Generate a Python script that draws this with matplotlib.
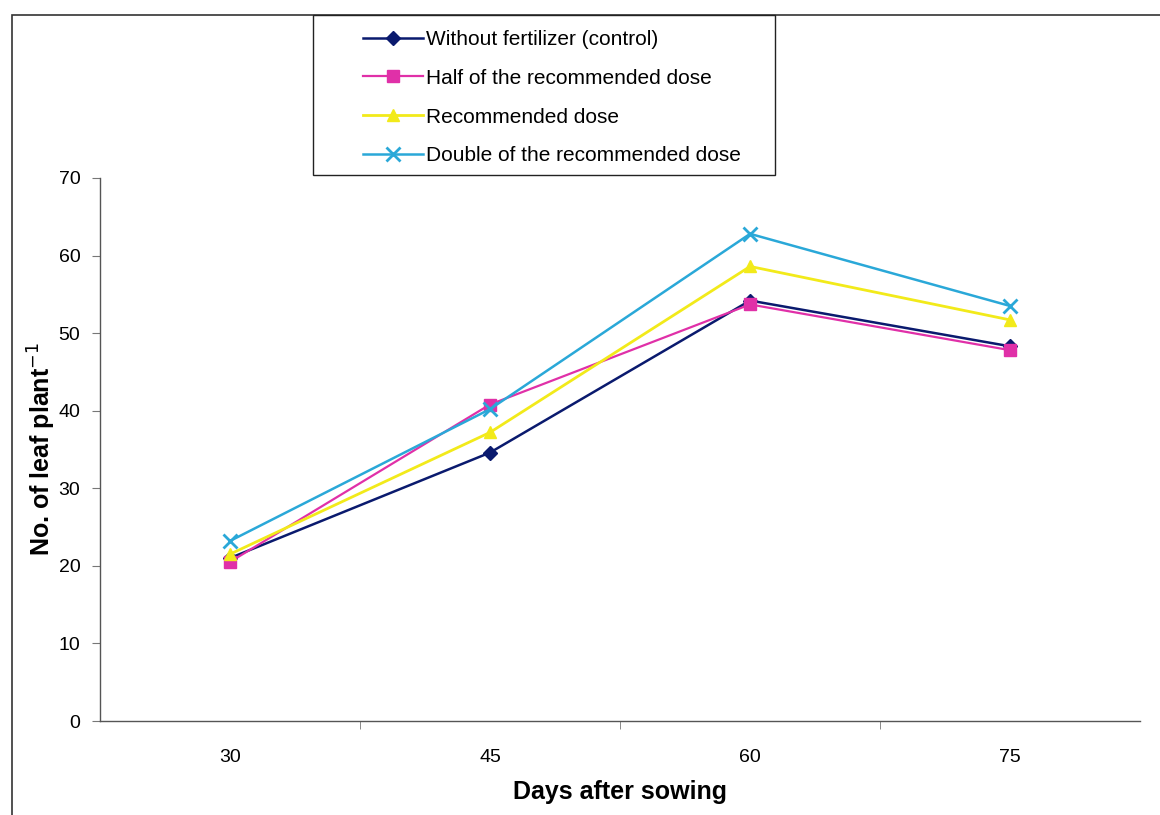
import matplotlib.pyplot as plt
from matplotlib.patches import Rectangle

# data
days = ["30", "45", "60", "75"]
control = [21.0, 34.6, 54.2, 48.3]
half_dose = [20.5, 40.8, 53.7, 47.8]
rec_dose = [21.5, 37.2, 58.6, 51.7]
double_dose = [23.2, 40.2, 62.8, 53.5]

labels = ["Without fertilizer (control)", "Half of the recommended dose",
          "Recommended dose", "Double of the recommended dose"]

plt.rcParams['font.family'] = ['Liberation Sans', 'DejaVu Sans']

fig = plt.figure(figsize=(11.6, 8.15), dpi=100)
ax = fig.add_axes([0.086, 0.1153, 0.897, 0.6663])

x = range(len(days))
ax.plot(x, control, color='#0a1a6e', marker='D', markersize=7, lw=1.8, label=labels[0])
ax.plot(x, half_dose, color='#e030a8', marker='s', markersize=8, lw=1.6, label=labels[1])
ax.plot(x, rec_dose, color='#f2ea1a', marker='^', markersize=9, lw=2.0, label=labels[2])
ax.plot(x, double_dose, color='#2aa8d8', marker='x', markersize=10, mew=2, lw=1.8, label=labels[3])

ax.set_xlim(-0.5, 3.5)
ax.set_ylim(0, 70)
ax.set_yticks(range(0, 71, 10))
ax.set_xticks(list(x))
ax.set_xticklabels(days)
ax.set_xticks([0.5, 1.5, 2.5], minor=True)
ax.tick_params(axis='x', which='major', length=0, pad=20, labelsize=14)
ax.tick_params(axis='x', which='minor', length=6, color='#777777')
ax.tick_params(axis='y', length=6, color='#777777', labelsize=14, pad=8)

for s in ['top', 'right']:
    ax.spines[s].set_visible(False)
for s in ['left', 'bottom']:
    ax.spines[s].set_color('#555555')
    ax.spines[s].set_linewidth(1.0)

ax.set_xlabel("Days after sowing", fontsize=18, fontweight='bold', labelpad=10)
ax.set_ylabel("No. of leaf plant$^{-1}$", fontsize=18, fontweight='bold', labelpad=0)

# outer chart frame
fig.patches.append(Rectangle((12 / 1160, -0.01), 1.1, 1 - 15 / 815 + 0.01,
                             transform=fig.transFigure, fill=False,
                             edgecolor='#333333', lw=1.2))

# legend box
fig.patches.append(Rectangle((313 / 1160, 1 - 175 / 815), 462 / 1160, 160 / 815,
                             transform=fig.transFigure, fill=False,
                             edgecolor='#222222', lw=1.0))
leg = fig.legend(loc='upper left', bbox_to_anchor=(363 / 1160, 1 - 30 / 815),
                 fontsize=15, frameon=False, handlelength=2.9, handletextpad=0.1,
                 labelspacing=0.95, borderpad=0, borderaxespad=0)

fig.savefig("out.png", dpi=100)
